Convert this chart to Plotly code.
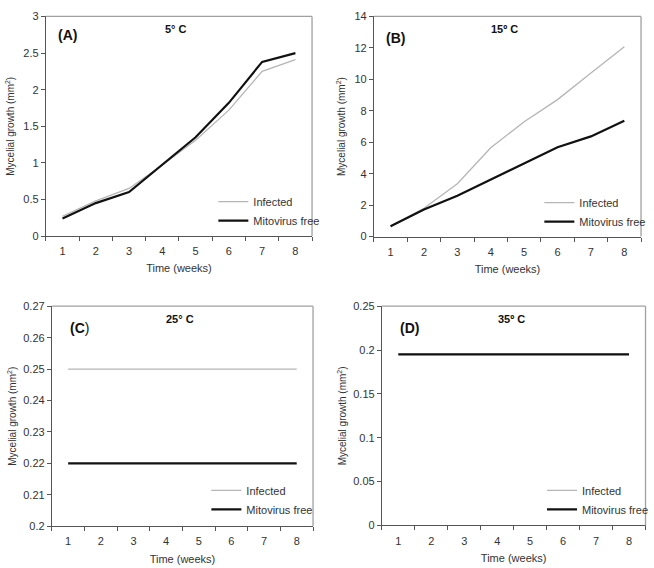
import plotly.graph_objects as go

weeks = [1, 2, 3, 4, 5, 6, 7, 8]
week_labels = ["1", "2", "3", "4", "5", "6", "7", "8"]

# Panel A: 5 °C
a_infected = [0.27, 0.48, 0.65, 0.97, 1.31, 1.72, 2.25, 2.41]
a_free = [0.24, 0.45, 0.60, 0.98, 1.35, 1.82, 2.38, 2.50]
# Panel B: 15 °C
b_infected = [0.66, 1.80, 3.36, 5.65, 7.30, 8.71, 10.40, 12.07]
b_free = [0.66, 1.72, 2.59, 3.63, 4.63, 5.68, 6.37, 7.36]
# Panel C: 25 °C
c_infected = [0.25] * 8
c_free = [0.22] * 8
# Panel D: 35 °C
d_infected = [0.195] * 8
d_free = [0.195] * 8

panel_labels = ["<b>(A)</b>", "<b>(B)</b>", "<b>(C</b>)", "<b>(D)</b>"]
temp_labels = ["<b>5° C</b>", "<b>15º C</b>", "<b>25° C</b>", "<b>35º C</b>"]

FONT = "Liberation Sans, Arial, sans-serif"
INF_COLOR = "#b5b5b5"
FREE_COLOR = "#111111"
AXIS_COLOR = "#555555"
BORDER_COLOR = "#a0a0a0"

W, H = 654, 568
def dx(a, b):
    return [a / W, b / W]
def dy(top, bottom):
    return [1 - bottom / H, 1 - top / H]

# leg = (text start x, first item y) in pixels
panels = [
    dict(x=dx(46, 313), y=dy(10.7, 235), yr=[0, 3], dt=0.5,
         inf=a_infected, free=a_free, leg=(250, 201), ts=6),
    dict(x=dx(375, 643), y=dy(10.7, 235.5), yr=[0, 14], dt=2,
         inf=b_infected, free=b_free, leg=(577, 202), ts=6),
    dict(x=dx(52, 314), y=dy(306.7, 531.5), yr=[0.2, 0.27], dt=0.01,
         inf=c_infected, free=c_free, leg=(243, 496), ts=4),
    dict(x=dx(383, 647.5), y=dy(306.7, 530.7), yr=[0, 0.25], dt=0.05,
         inf=d_infected, free=d_free, leg=(580, 496), ts=4),
]

fig = go.Figure()
annotations = []
shapes = []
layout = {}

for i, p in enumerate(panels):
    n = "" if i == 0 else str(i + 1)
    xa, ya = "x" + n, "y" + n
    lg = "legend" if i == 0 else "legend" + str(i + 1)
    fig.add_trace(go.Scatter(x=weeks, y=p["inf"], mode="lines", name="Infected",
                             line=dict(color=INF_COLOR, width=1.3),
                             xaxis=xa, yaxis=ya, legend=lg))
    fig.add_trace(go.Scatter(x=weeks, y=p["free"], mode="lines", name="Mitovirus free",
                             line=dict(color=FREE_COLOR, width=2.2),
                             xaxis=xa, yaxis=ya, legend=lg))
    layout["xaxis" + n] = dict(
        domain=p["x"], anchor=ya, range=[0.5, 8.5],
        tickmode="array", tickvals=weeks, ticktext=week_labels, ticks="",
        ticklabelstandoff=5,
        minor=dict(tickmode="linear", tick0=0.5, dtick=1, ticks="outside",
                   ticklen=4, tickcolor=AXIS_COLOR, showgrid=False),
        showline=True, linecolor=AXIS_COLOR, linewidth=1, showgrid=False,
        zeroline=False, tickfont=dict(size=11, color="#333333", family=FONT),
        title=dict(text="Time (weeks)", font=dict(size=11, color="#333333", family=FONT),
                   standoff=8),
        fixedrange=True,
    )
    layout["yaxis" + n] = dict(
        domain=p["y"], anchor=xa, range=p["yr"], dtick=p["dt"], tick0=0,
        ticks="outside", ticklen=4, tickcolor=AXIS_COLOR,
        showline=True, linecolor=AXIS_COLOR, linewidth=1, showgrid=False,
        zeroline=False, tickfont=dict(size=11, color="#333333", family=FONT),
        title=dict(text="Mycelial growth (mm<sup>2</sup>)",
                   font=dict(size=10, color="#333333", family=FONT), standoff=p["ts"]),
        fixedrange=True,
    )
    # plot-area border (top and right edges)
    shapes.append(dict(type="line", xref=xa + " domain", yref=ya + " domain",
                       x0=0, x1=1, y0=1, y1=1, line=dict(color=BORDER_COLOR, width=1.3),
                       layer="above"))
    shapes.append(dict(type="line", xref=xa + " domain", yref=ya + " domain",
                       x0=1, x1=1, y0=0, y1=1, line=dict(color=BORDER_COLOR, width=1.3),
                       layer="above"))
    lx, ly = p["leg"]
    layout[lg] = dict(x=(lx - 36) / W, y=1 - (ly - 16) / H, xanchor="left", yanchor="top",
                      bgcolor="rgba(0,0,0,0)", font=dict(size=11, color="#333333", family=FONT),
                      tracegroupgap=0, itemwidth=30)
    x0, x1 = p["x"]
    y0, y1 = p["y"]
    annotations.append(dict(text=panel_labels[i], xref="paper", yref="paper",
                            x=x0 + (10 if i in (0, 1) else 16) / W,
                            y=y1 - (19 if i == 0 else 22) / H,
                            xanchor="left", yanchor="middle", showarrow=False,
                            font=dict(size=14, color="#111111", family=FONT)))
    annotations.append(dict(text=temp_labels[i], xref="paper", yref="paper",
                            x=x0 + (x1 - x0) * 0.49,
                            y=y1 - 13 / H, xanchor="center", yanchor="middle", showarrow=False,
                            font=dict(size=11, color="#111111", family=FONT)))

fig.update_layout(
    width=W, height=H, margin=dict(l=0, r=0, t=0, b=0),
    paper_bgcolor="white", plot_bgcolor="white",
    annotations=annotations, shapes=shapes, showlegend=True,
    font=dict(family=FONT),
    **layout,
)

fig.write_html("out.html")
